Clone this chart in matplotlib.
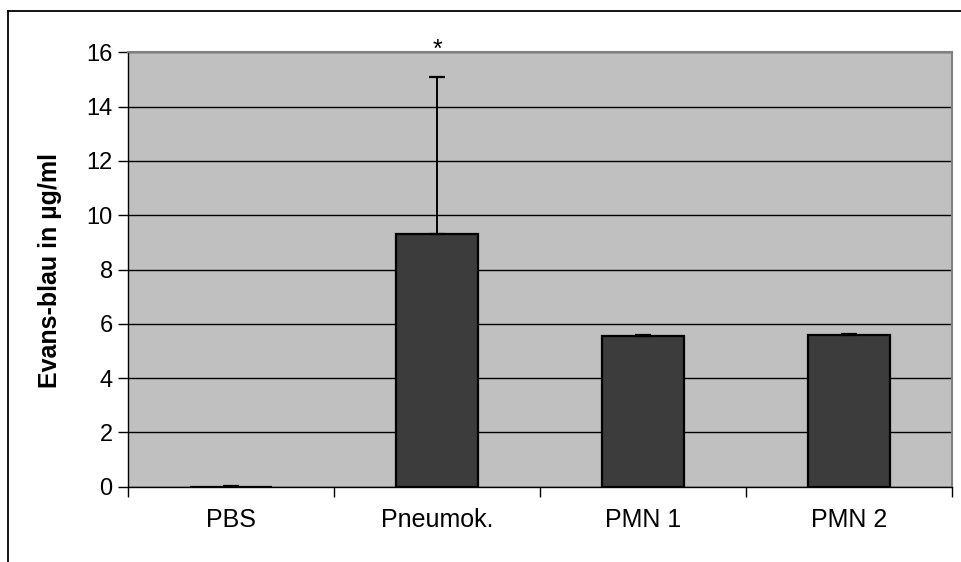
import matplotlib
matplotlib.use("Agg")
import matplotlib.pyplot as plt
from matplotlib.lines import Line2D

categories = ["PBS", "Pneumok.", "PMN 1", "PMN 2"]
values = [0.0, 9.3, 5.55, 5.6]
errors = [0.02, 5.8, 0.03, 0.03]
yticks = [0, 2, 4, 6, 8, 10, 12, 14, 16]
ylabel = "Evans-blau in µg/ml"
star_label = "*"

plt.rcParams['font.family'] = ['Liberation Sans', 'DejaVu Sans']

W, H = 962, 562
fig = plt.figure(figsize=(W / 100, H / 100), dpi=100)
L, R, T, B = 128, 952, 52.3, 486.7
ax = fig.add_axes([L / W, 1 - B / H, (R - L) / W, (B - T) / H])
ax.set_facecolor('#C0C0C0')

x = list(range(len(categories)))
ax.bar(x, values, width=0.4, color='#3C3C3C', edgecolor='black', linewidth=1.6, zorder=3)
ax.errorbar(x, values, yerr=[[0] * len(errors), errors], fmt='none', ecolor='black',
            elinewidth=1.4, capsize=5.8, capthick=1.6, zorder=4)

ax.set_xlim(-0.5, len(categories) - 0.5)
ax.set_ylim(0, 16)
ax.set_yticks(yticks)
ax.set_yticklabels([str(v) for v in yticks], fontsize=17)
ax.yaxis.grid(True, color='black', linewidth=1.0, zorder=1)
ax.set_axisbelow(True)

# category boundaries as major ticks, labels at centers as minor
ax.set_xticks([i - 0.5 for i in range(len(categories) + 1)])
ax.set_xticklabels([])
ax.set_xticks(x, minor=True)
ax.set_xticklabels(categories, minor=True, fontsize=18)
ax.tick_params(axis='x', which='minor', length=0, pad=15)
ax.tick_params(axis='x', which='major', length=7, width=1, direction='out', color='black')
ax.tick_params(axis='y', length=7, width=1, direction='out', pad=4)

for s in ['top', 'right']:
    ax.spines[s].set_color('#808080')
    ax.spines[s].set_linewidth(1.5)
for s in ['left', 'bottom']:
    ax.spines[s].set_color('black')
    ax.spines[s].set_linewidth(1.0)

ax.text(1, 15.84, star_label, ha='center', va='baseline', fontsize=18, clip_on=False)

fig.text(50 / W, 1 - 270 / H, ylabel, rotation=90, ha='center', va='center',
         fontsize=18, fontweight='bold')

# outer frame (cropped chart border)
fig.add_artist(Line2D([8 / W, 1.0], [1 - 10.5 / H, 1 - 10.5 / H], color='black', linewidth=1.3,
                      transform=fig.transFigure))
fig.add_artist(Line2D([8 / W, 8 / W], [0.0, 1 - 10.5 / H], color='black', linewidth=1.3,
                      transform=fig.transFigure))

fig.savefig("out.png", dpi=100)
